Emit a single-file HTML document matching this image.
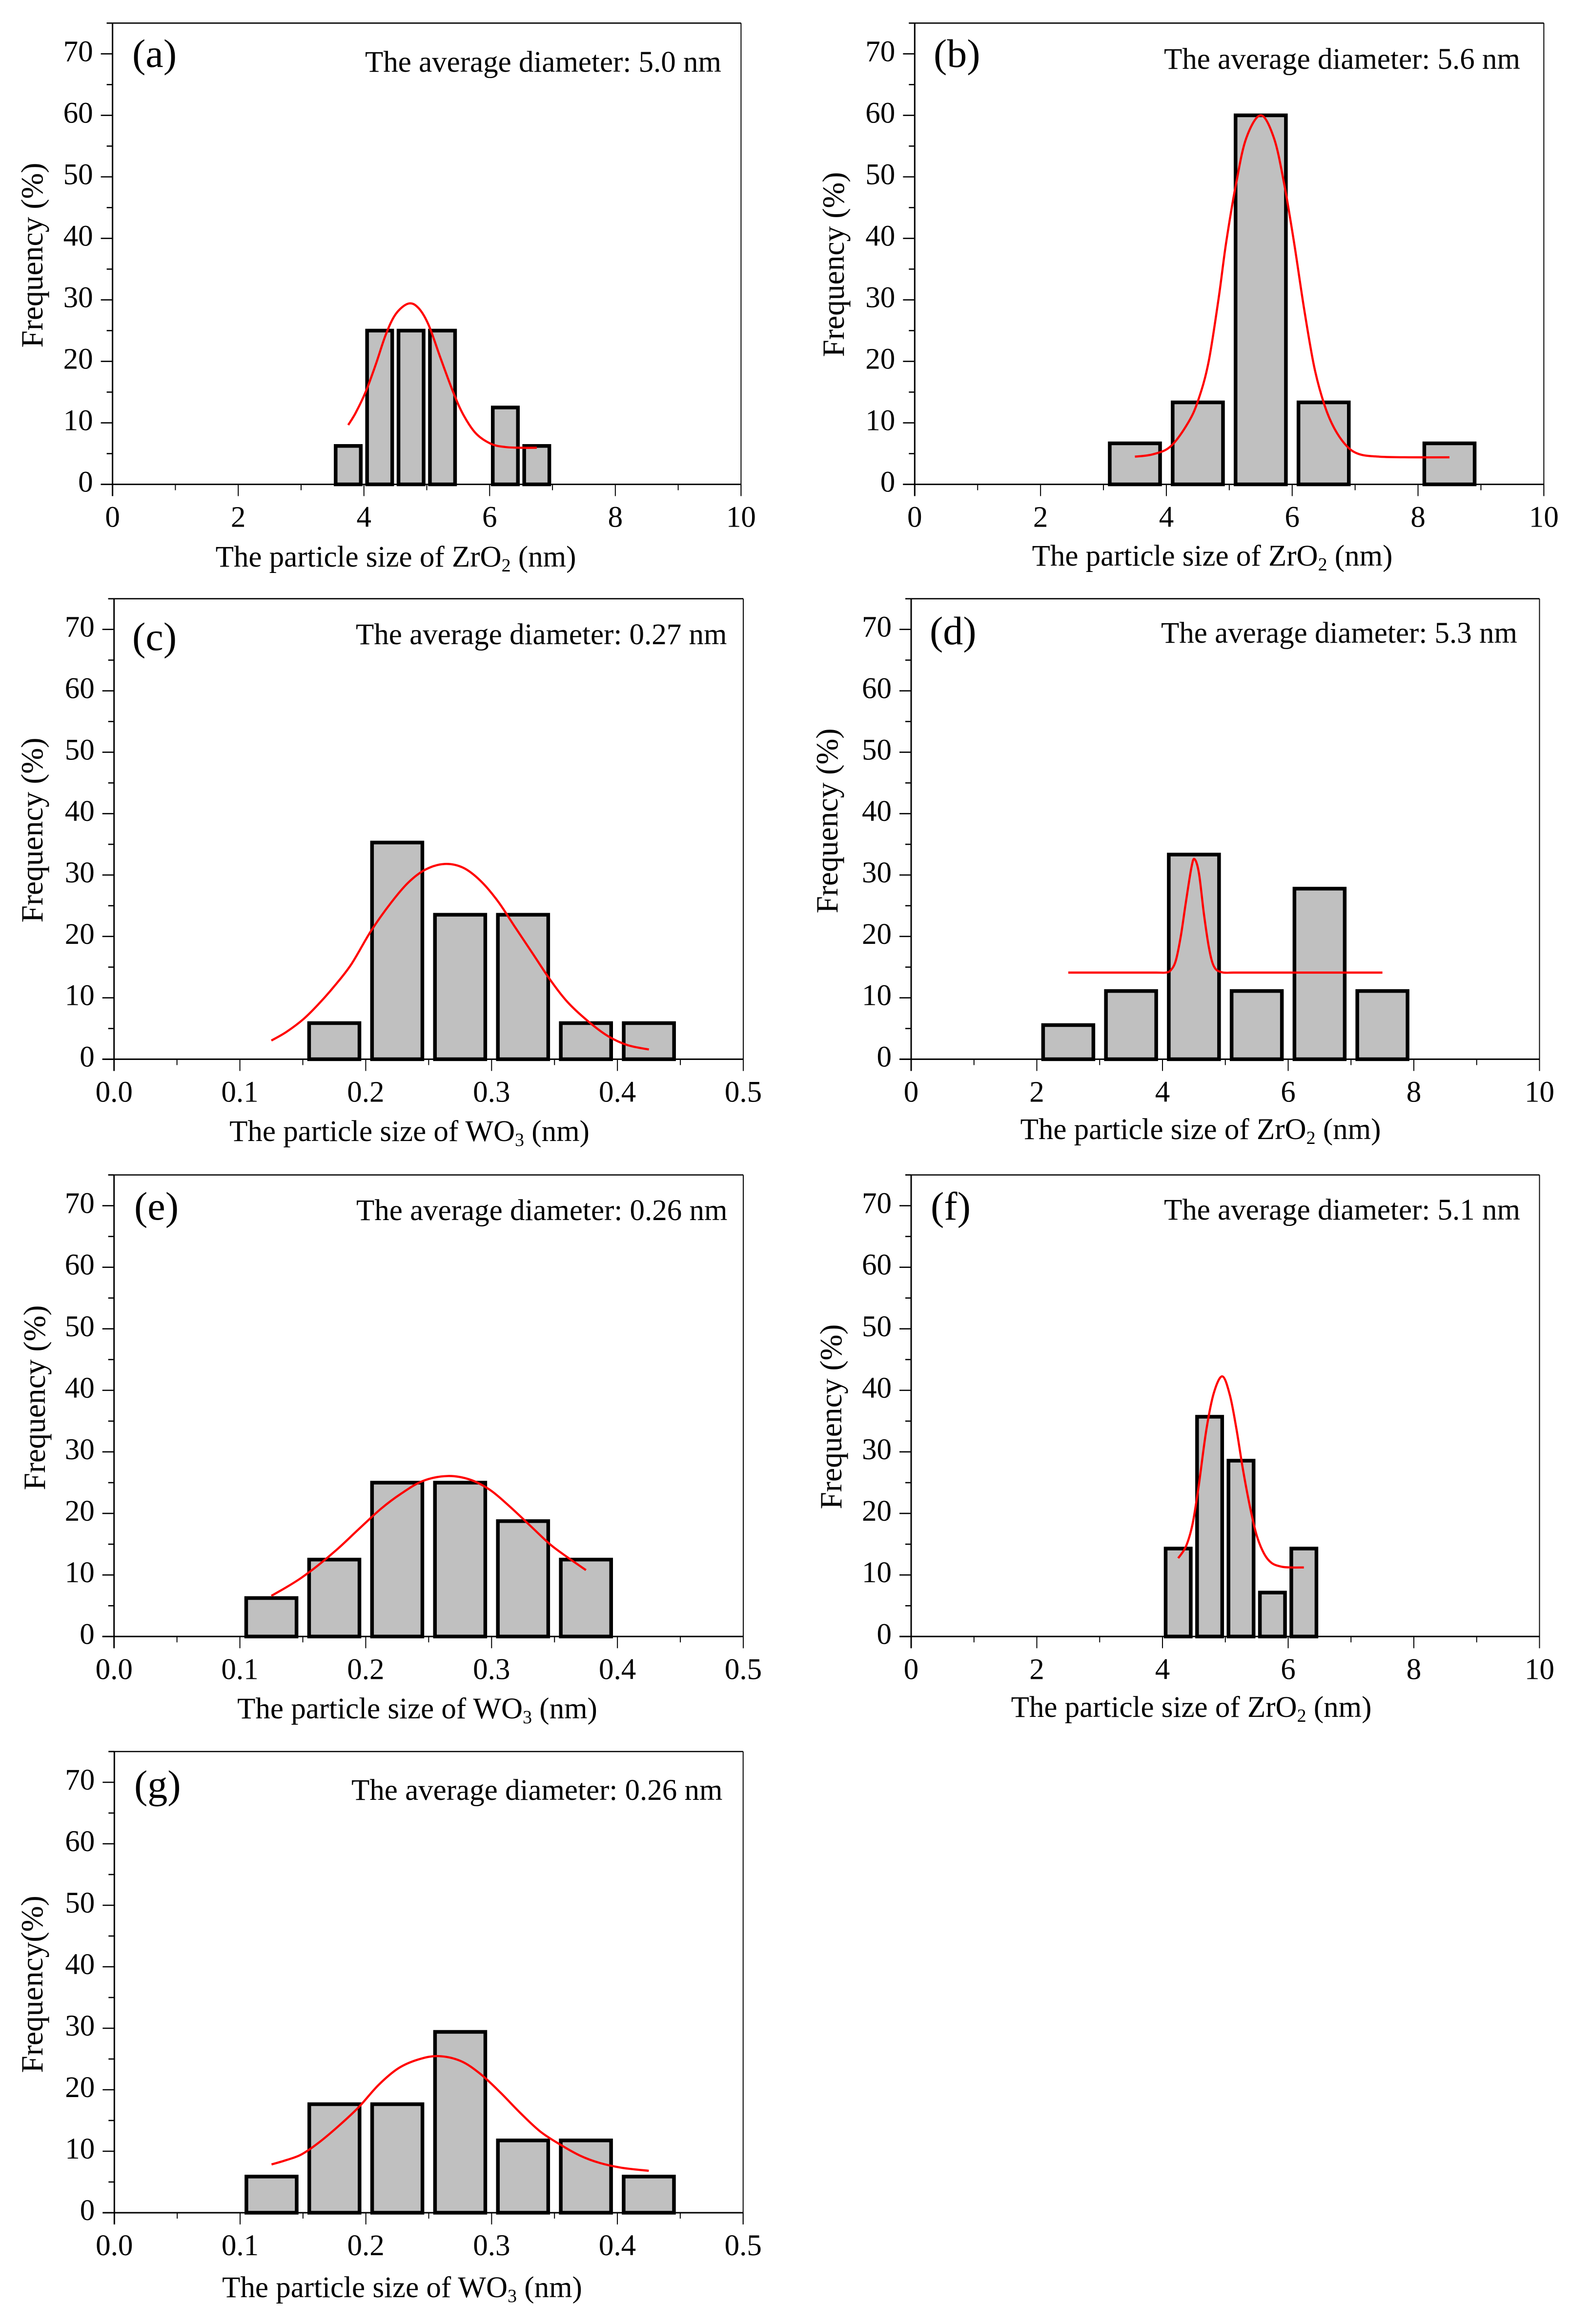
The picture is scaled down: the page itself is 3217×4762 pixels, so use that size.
<!DOCTYPE html>
<html lang="en">
<head>
<meta charset="utf-8">
<title>Particle size distributions</title>
<style>
html,body{margin:0;padding:0;background:#fff;}
svg{display:block;}
text{font-family:"Liberation Serif","Times New Roman",serif;fill:#000;}
.tick{font-size:61px;}
.axis-title{font-size:61px;}
.y-title{font-size:63.5px;}
.panel-tag{font-size:82px;}
.annotation{font-size:61px;}
.sub{font-size:38px;}
</style>
</head>
<body>
<svg id="figure" width="3217" height="4762" viewBox="0 0 3217 4762" xmlns="http://www.w3.org/2000/svg">
  <rect x="0" y="0" width="3217" height="4762" fill="#fff"/>

  <g id="panel-a"></g>
  <g id="panel-b"></g>
  <g id="panel-c"></g>
  <g id="panel-d"></g>
  <g id="panel-e"></g>
  <g id="panel-f"></g>
  <g id="panel-g"></g>

  <g>
    <text class="panel-tag" x="271" y="137">(a)</text>
    <text class="annotation" x="748" y="147">The average diameter: 5.0 nm</text>
    <text class="axis-title" x="811" y="1161" text-anchor="middle">The particle size of ZrO<tspan class="sub" dy="10">2</tspan><tspan dy="-10"> (nm)</tspan></text>
    <text class="y-title" transform="translate(87 523) rotate(-90)" text-anchor="middle">Frequency (%)</text>
  </g>
  <g>
    <text class="panel-tag" x="1913" y="137">(b)</text>
    <text class="annotation" x="2385" y="141">The average diameter: 5.6 nm</text>
    <text class="axis-title" x="2484" y="1159" text-anchor="middle">The particle size of ZrO<tspan class="sub" dy="10">2</tspan><tspan dy="-10"> (nm)</tspan></text>
    <text class="y-title" transform="translate(1729 542) rotate(-90)" text-anchor="middle">Frequency (%)</text>
  </g>
  <g>
    <text class="panel-tag" x="271" y="1332">(c)</text>
    <text class="annotation" x="729" y="1320">The average diameter: 0.27 nm</text>
    <text class="axis-title" x="839" y="2338" text-anchor="middle">The particle size of WO<tspan class="sub" dy="10">3</tspan><tspan dy="-10"> (nm)</tspan></text>
    <text class="y-title" transform="translate(87 1701) rotate(-90)" text-anchor="middle">Frequency (%)</text>
  </g>
  <g>
    <text class="panel-tag" x="1905" y="1320">(d)</text>
    <text class="annotation" x="2379" y="1317">The average diameter: 5.3 nm</text>
    <text class="axis-title" x="2460" y="2334" text-anchor="middle">The particle size of ZrO<tspan class="sub" dy="10">2</tspan><tspan dy="-10"> (nm)</tspan></text>
    <text class="y-title" transform="translate(1716 1682) rotate(-90)" text-anchor="middle">Frequency (%)</text>
  </g>
  <g>
    <text class="panel-tag" x="275" y="2499">(e)</text>
    <text class="annotation" x="730" y="2500">The average diameter: 0.26 nm</text>
    <text class="axis-title" x="855" y="3521" text-anchor="middle">The particle size of WO<tspan class="sub" dy="10">3</tspan><tspan dy="-10"> (nm)</tspan></text>
    <text class="y-title" transform="translate(92 2864) rotate(-90)" text-anchor="middle">Frequency (%)</text>
  </g>
  <g>
    <text class="panel-tag" x="1907" y="2499">(f)</text>
    <text class="annotation" x="2385" y="2499">The average diameter: 5.1 nm</text>
    <text class="axis-title" x="2441" y="3518" text-anchor="middle">The particle size of ZrO<tspan class="sub" dy="10">2</tspan><tspan dy="-10"> (nm)</tspan></text>
    <text class="y-title" transform="translate(1724 2903) rotate(-90)" text-anchor="middle">Frequency (%)</text>
  </g>
  <g>
    <text class="panel-tag" x="275" y="3684">(g)</text>
    <text class="annotation" x="720" y="3688">The average diameter: 0.26 nm</text>
    <text class="axis-title" x="824" y="4707" text-anchor="middle">The particle size of WO<tspan class="sub" dy="10">3</tspan><tspan dy="-10"> (nm)</tspan></text>
    <text class="y-title" transform="translate(87 4066) rotate(-90)" text-anchor="middle">Frequency(%)</text>
  </g>
</svg>

<script>
// Shared axis ticks
const yMajorTicks = [0, 10, 20, 30, 40, 50, 60, 70];
const yMinorTicks = [5, 15, 25, 35, 45, 55, 65, 75];
const zrMajorTicks = [0, 2, 4, 6, 8, 10];
const zrMajorLabels = ["0", "2", "4", "6", "8", "10"];
const zrMinorTicks = [1, 3, 5, 7, 9];
const wMajorTicks = [0, 0.1, 0.2, 0.3, 0.4, 0.5];
const wMajorLabels = ["0.0", "0.1", "0.2", "0.3", "0.4", "0.5"];
const wMinorTicks = [0.05, 0.15, 0.25, 0.35, 0.45];

// Panel (a)
const binsA = [3.75, 4.25, 4.75, 5.25, 6.25, 6.75];
const freqA = [6.25, 25, 25, 25, 12.5, 6.25];
const fitXA = [3.75, 3.87, 4.03, 4.19, 4.35, 4.51, 4.71, 4.87, 5.03, 5.22, 5.42, 5.58, 5.78, 6.02, 6.25, 6.53, 6.75];
const fitYA = [9.65, 11.66, 15.1, 19.55, 24.4, 27.75, 29.4, 28.65, 25.9, 20.5, 15.0, 11.35, 8.3, 6.6, 6.07, 5.95, 5.95];

// Panel (b)
const binsB = [3.5, 4.5, 5.5, 6.5, 8.5];
const freqB = [6.67, 13.33, 60, 13.33, 6.67];
const fitXB = [3.5, 3.79, 4.07, 4.35, 4.51, 4.67, 4.83, 4.95, 5.11, 5.27, 5.5, 5.71, 5.87, 6.03, 6.19, 6.35, 6.51, 6.67, 6.87, 7.07, 7.39, 7.87, 8.5];
const fitYB = [4.5, 4.9, 6.2, 10.1, 13.8, 19.85, 30.2, 39.3, 49, 56.3, 60, 56.3, 49, 39.3, 28.5, 19.1, 13, 9.1, 6.2, 4.9, 4.5, 4.4, 4.4];

// Panel (c)
const binsC = [0.175, 0.225, 0.275, 0.325, 0.375, 0.425];
const freqC = [5.88, 35.29, 23.53, 23.53, 5.88, 5.88];
const fitXC = [0.125, 0.1369, 0.1507, 0.1626, 0.1744, 0.1883, 0.2041, 0.2199, 0.2338, 0.2476, 0.2627, 0.2773, 0.2911, 0.305, 0.3188, 0.3327, 0.3465, 0.3604, 0.3762, 0.392, 0.4078, 0.425];
const fitYC = [3.04, 4.44, 6.57, 9.0, 11.74, 15.39, 20.86, 25.43, 28.77, 30.9, 31.8, 31.2, 29.08, 25.73, 21.47, 17.2, 12.96, 9.3, 6.27, 3.83, 2.31, 1.58];

// Panel (d)
const binsD = [2.5, 3.5, 4.5, 5.5, 6.5, 7.5];
const freqD = [5.56, 11.11, 33.33, 11.11, 27.78, 11.11];
const fitXD = [2.5, 3.0, 3.5, 3.9, 4.05, 4.13, 4.21, 4.29, 4.37, 4.46, 4.51, 4.58, 4.66, 4.74, 4.82, 4.94, 5.14, 5.5, 6.0, 6.5, 7.0, 7.5];
const fitYD = [14.11, 14.11, 14.11, 14.11, 14.11, 14.48, 16, 19.95, 25.43, 31.2, 32.6, 30.3, 23.6, 18.13, 15.09, 14.17, 14.11, 14.11, 14.11, 14.11, 14.11, 14.11];

// Panel (e)
const binsE = [0.125, 0.175, 0.225, 0.275, 0.325, 0.375];
const freqE = [6.25, 12.5, 25, 25, 18.75, 12.5];
const fitXE = [0.125, 0.1369, 0.1487, 0.1626, 0.1784, 0.1942, 0.212, 0.2278, 0.2456, 0.2654, 0.2832, 0.2991, 0.3149, 0.3307, 0.3465, 0.3604, 0.375];
const fitYE = [6.61, 8.0, 9.52, 11.64, 14.37, 17.4, 20.74, 23.17, 25.29, 26.08, 25.47, 23.77, 21.04, 18.01, 14.98, 12.86, 10.79];

// Panel (f)
const binsF = [4.25, 4.75, 5.25, 5.75, 6.25];
const freqF = [14.29, 35.71, 28.57, 7.14, 14.29];
const fitXF = [4.25, 4.375, 4.479, 4.575, 4.696, 4.816, 4.952, 5.072, 5.176, 5.281, 5.393, 5.497, 5.617, 5.737, 5.897, 6.058, 6.25];
const fitYF = [12.73, 14.68, 18.31, 24.38, 33.47, 39.54, 42.27, 39.24, 33.78, 27.11, 21.04, 16.5, 13.46, 11.95, 11.34, 11.22, 11.22];

// Panel (g)
const binsG = [0.125, 0.175, 0.225, 0.275, 0.325, 0.375, 0.425];
const freqG = [5.88, 17.65, 17.65, 29.41, 11.76, 11.76, 5.88];
const fitXG = [0.125, 0.1369, 0.1487, 0.1626, 0.1784, 0.1942, 0.21, 0.2258, 0.2417, 0.2575, 0.2753, 0.2911, 0.307, 0.3228, 0.3386, 0.3544, 0.3703, 0.3861, 0.4039, 0.425];
const fitYG = [7.85, 8.57, 9.47, 11.41, 14.12, 17.14, 20.76, 23.48, 24.92, 25.47, 24.68, 22.57, 19.55, 16.23, 13.22, 11.1, 9.29, 8.09, 7.3, 6.82];

const NS = "http://www.w3.org/2000/svg";

function node(parent, tag, attrs) {
  const el = document.createElementNS(NS, tag);
  for (const k in attrs) el.setAttribute(k, attrs[k]);
  parent.appendChild(el);
  return el;
}

function smoothPath(pts) {
  let d = "M" + pts[0][0].toFixed(2) + " " + pts[0][1].toFixed(2);
  for (let i = 0; i < pts.length - 1; i++) {
    const p0 = pts[Math.max(i - 1, 0)], p1 = pts[i], p2 = pts[i + 1], p3 = pts[Math.min(i + 2, pts.length - 1)];
    const c1x = p1[0] + (p2[0] - p0[0]) / 6, c1y = p1[1] + (p2[1] - p0[1]) / 6;
    const c2x = p2[0] - (p3[0] - p1[0]) / 6, c2y = p2[1] - (p3[1] - p1[1]) / 6;
    d += "C" + c1x.toFixed(2) + " " + c1y.toFixed(2) + " " + c2x.toFixed(2) + " " + c2y.toFixed(2) + " " + p2[0].toFixed(2) + " " + p2[1].toFixed(2);
  }
  return d;
}

function drawPanel(cfg) {
  const g = document.getElementById("panel-" + cfg.key);
  const xScale = v => cfg.left + (v / cfg.xMax) * (cfg.right - cfg.left);
  const yScale = v => cfg.base - (v / 75) * (cfg.base - cfg.top);

  const barWidth = cfg.binWidth * 0.8;
  cfg.bins.forEach((c, i) => {
    const x0 = xScale(c - barWidth / 2), x1 = xScale(c + barWidth / 2), y0 = yScale(cfg.freq[i]);
    const bar = node(g, "rect", {x: x0, y: y0, width: x1 - x0, height: cfg.base - y0, fill: "#c0c0c0", stroke: "#000", "stroke-width": 7.5});
    
    
  });

  const fitPts = cfg.fitX.map((x, i) => [xScale(x), yScale(cfg.fitY[i])]);
  const fit = node(g, "path", {d: smoothPath(fitPts), fill: "none", stroke: "#ff0000", "stroke-width": 4.4, "stroke-linejoin": "round"});
  
  

  const frame = [
    ["left-axis", cfg.left, cfg.top, cfg.left, cfg.base + 24, 3],
    ["right-axis", cfg.right, cfg.top, cfg.right, cfg.base + 24, 2],
    ["top-axis", cfg.left - 12, cfg.top, cfg.right, cfg.top, 2.6],
    ["bottom-axis", cfg.left - 24, cfg.base, cfg.right, cfg.base, 3]
  ];
  frame.forEach(f => {
    const line = node(g, "line", {x1: f[1], y1: f[2], x2: f[3], y2: f[4], stroke: "#000", "stroke-width": f[5]});
    
    
  });

  yMajorTicks.forEach(v => {
    const y = yScale(v);
    const tick = node(g, "line", {x1: cfg.left - 24, y1: y, x2: cfg.left, y2: y, stroke: "#000", "stroke-width": 2.6});
    
    
    const label = node(g, "text", {class: "tick", x: cfg.left - 40, y: y + 15, "text-anchor": "end"});
    label.textContent = String(v);
    
    
  });
  yMinorTicks.forEach(v => {
    const y = yScale(v);
    const tick = node(g, "line", {x1: cfg.left - 12, y1: y, x2: cfg.left, y2: y, stroke: "#000", "stroke-width": 2.6});
    
    
  });
  cfg.xMajor.forEach((v, i) => {
    const x = xScale(v);
    const tick = node(g, "line", {x1: x, y1: cfg.base, x2: x, y2: cfg.base + 24, stroke: "#000", "stroke-width": 2});
    
    
    const label = node(g, "text", {class: "tick", x: x, y: cfg.base + 87, "text-anchor": "middle"});
    label.textContent = cfg.xLabels[i];
    
    
  });
  cfg.xMinor.forEach(v => {
    const x = xScale(v);
    const tick = node(g, "line", {x1: x, y1: cfg.base, x2: x, y2: cfg.base + 12, stroke: "#000", "stroke-width": 2});
    
    
  });
}

drawPanel({key: "a", left: 230.6, right: 1518.4, top: 47.3, base: 992.5, xMax: 10, binWidth: 0.5, bins: binsA, freq: freqA, fitX: fitXA, fitY: fitYA, xMajor: zrMajorTicks, xLabels: zrMajorLabels, xMinor: zrMinorTicks});
drawPanel({key: "b", left: 1874.3, right: 3163.4, top: 47.3, base: 992.5, xMax: 10, binWidth: 1, bins: binsB, freq: freqB, fitX: fitXB, fitY: fitYB, xMajor: zrMajorTicks, xLabels: zrMajorLabels, xMinor: zrMinorTicks});
drawPanel({key: "c", left: 233.7, right: 1523, top: 1226.8, base: 2170.4, xMax: 0.5, binWidth: 0.05, bins: binsC, freq: freqC, fitX: fitXC, fitY: fitYC, xMajor: wMajorTicks, xLabels: wMajorLabels, xMinor: wMinorTicks});
drawPanel({key: "d", left: 1867, right: 3154.5, top: 1226.8, base: 2170.4, xMax: 10, binWidth: 1, bins: binsD, freq: freqD, fitX: fitXD, fitY: fitYD, xMajor: zrMajorTicks, xLabels: zrMajorLabels, xMinor: zrMinorTicks});
drawPanel({key: "e", left: 233.7, right: 1523, top: 2407.5, base: 3353.3, xMax: 0.5, binWidth: 0.05, bins: binsE, freq: freqE, fitX: fitXE, fitY: fitYE, xMajor: wMajorTicks, xLabels: wMajorLabels, xMinor: wMinorTicks});
drawPanel({key: "f", left: 1867, right: 3154.5, top: 2407.5, base: 3353.3, xMax: 10, binWidth: 0.5, bins: binsF, freq: freqF, fitX: fitXF, fitY: fitYF, xMajor: zrMajorTicks, xLabels: zrMajorLabels, xMinor: zrMinorTicks});
drawPanel({key: "g", left: 234.3, right: 1522.7, top: 3589, base: 4534, xMax: 0.5, binWidth: 0.05, bins: binsG, freq: freqG, fitX: fitXG, fitY: fitYG, xMajor: wMajorTicks, xLabels: wMajorLabels, xMinor: wMinorTicks});
</script>
</body>
</html>
